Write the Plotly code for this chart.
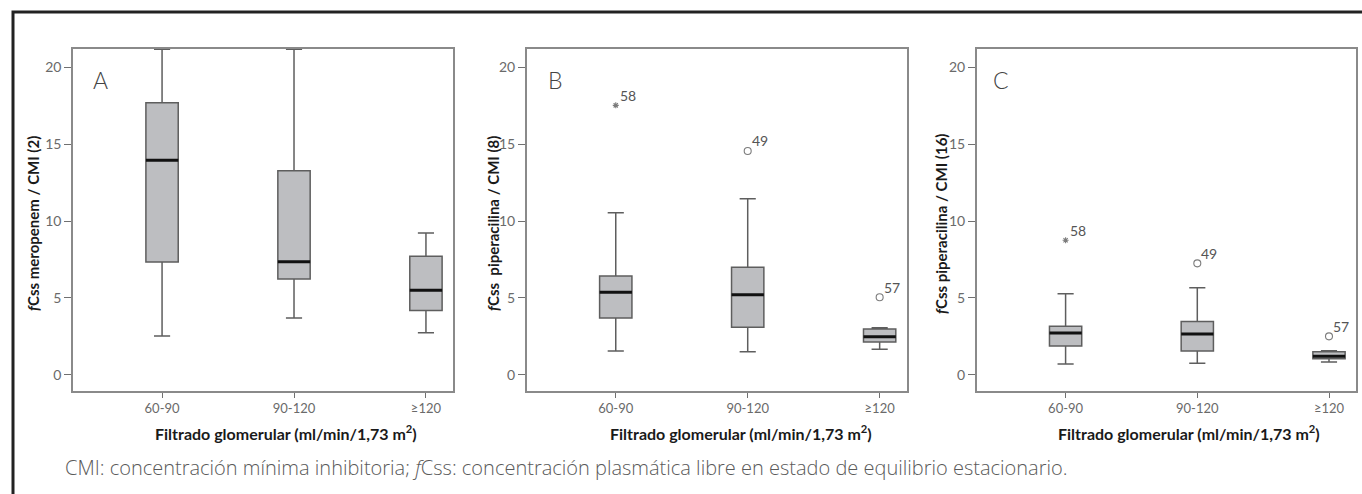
import plotly.graph_objects as go

W, H = 1362, 494

categories = ["60-90", "90-120", "≥120"]
cat_pos = [0, 1, 2]
panel_letters = ["A", "B", "C"]
y_titles = ["<i>f</i>Css meropenem / CMI (2)",
            "<i>f</i>Css  piperacilina / CMI (8)",
            "<i>f</i>Css piperacilina / CMI (16)"]
x_title = "Filtrado glomerular (ml/min/1,73 m<sup>2</sup>)"
caption = ("CMI: concentración mínima inhibitoria; <i>f</i>Css: concentración plasmática "
           "libre en estado de equilibrio estacionario.")

# Panel A: meropenem / CMI (2)
a_low = [2.53, 3.70, 2.75]
a_q1 = [7.34, 6.23, 4.18]
a_med = [13.94, 7.36, 5.50]
a_q3 = [17.68, 13.27, 7.71]
a_high = [21.15, 21.15, 9.22]
a_out_x, a_out_y, a_out_lbl, a_out_sym = [], [], [], []

# Panel B: piperacilina / CMI (8)
b_low = [1.56, 1.51, 1.67]
b_q1 = [3.70, 3.10, 2.14]
b_med = [5.37, 5.21, 2.49]
b_q3 = [6.43, 6.99, 2.99]
b_high = [10.54, 11.45, 3.07]
b_out_x = [0, 1, 2]
b_out_y = [17.51, 14.55, 5.05]
b_out_lbl = ["58", "49", "57"]
b_out_sym = ["asterisk-open", "circle-open", "circle-open"]

# Panel C: piperacilina / CMI (16)
c_low = [0.71, 0.76, 0.84]
c_q1 = [1.88, 1.56, 1.06]
c_med = [2.73, 2.66, 1.21]
c_q3 = [3.16, 3.48, 1.51]
c_high = [5.28, 5.67, 1.58]
c_out_x = [0, 1, 2]
c_out_y = [8.75, 7.25, 2.51]
c_out_lbl = ["58", "49", "57"]
c_out_sym = ["asterisk-open", "circle-open", "circle-open"]

panels = [
    (a_low, a_q1, a_med, a_q3, a_high, a_out_x, a_out_y, a_out_lbl, a_out_sym),
    (b_low, b_q1, b_med, b_q3, b_high, b_out_x, b_out_y, b_out_lbl, b_out_sym),
    (c_low, c_q1, c_med, c_q3, c_high, c_out_x, c_out_y, c_out_lbl, c_out_sym),
]

# layout geometry (pixels)
plot_x = [(73, 453), (526.7, 906.7), (976.7, 1356)]
plot_y = (49, 391)
ytitle_x = [33, 493, 941]
xtitle_x = [286, 741, 1189]
letter_x = [91, 546, 991]

BOX_W = 0.245
FILL = "#bdbec1"
EDGE = "#5e5e5e"
TICKC = "#707070"
LIGHT = "Lato, 'Open Sans', sans-serif"
CAPF = "'Open Sans', Lato, sans-serif"
BOLD = "Lato, 'DejaVu Sans', sans-serif"

def px(x):
    return x / W

def py(y):
    return 1 - y / H

fig = go.Figure()
annotations = []
for i, (low, q1, med, q3, high, ox, oy, olbl, osym) in enumerate(panels):
    xa = "x" if i == 0 else f"x{i+1}"
    ya = "y" if i == 0 else f"y{i+1}"
    fig.add_trace(go.Box(
        x=cat_pos, q1=q1, median=med, q3=q3, lowerfence=low, upperfence=high,
        width=BOX_W, whiskerwidth=0.5, boxpoints=False,
        fillcolor=FILL, line=dict(color=EDGE, width=1.5),
        xaxis=xa, yaxis=ya, showlegend=False, hoverinfo="skip"))
    mx, my = [], []
    for p, m in zip(cat_pos, med):
        mx += [p - BOX_W / 2, p + BOX_W / 2, None]
        my += [m, m, None]
    fig.add_trace(go.Scatter(x=mx, y=my, mode="lines",
                             line=dict(color="#111111", width=3),
                             xaxis=xa, yaxis=ya, showlegend=False, hoverinfo="skip"))
    if ox:
        fig.add_trace(go.Scatter(
            x=ox, y=oy, mode="markers",
            marker=dict(symbol=osym, size=[5 if s.startswith("asterisk") else 7 for s in osym],
                        color="#444444", line=dict(color="#444444", width=1.1)),
            xaxis=xa, yaxis=ya, showlegend=False, hoverinfo="skip"))
        for xv, yv, lbl in zip(ox, oy, olbl):
            annotations.append(dict(text=lbl, x=xv, y=yv, xref=xa, yref=ya,
                                    showarrow=False, xanchor="left", yanchor="middle",
                                    xshift=2, yshift=10,
                                    font=dict(family=LIGHT, size=14, color="#555555")))

    x0, x1 = plot_x[i]
    xaxis = dict(domain=[px(x0), px(x1)], range=[-0.675, 2.205],
                 tickmode="array", tickvals=cat_pos, ticktext=categories,
                 ticks="outside", ticklen=5, tickcolor=TICKC, tickwidth=1,
                 showline=True, linecolor="#8a8a8a", linewidth=1.5, mirror=True,
                 showgrid=False, zeroline=False, anchor=ya,
                 tickfont=dict(family=LIGHT, size=13, color="#6a6a6a"), fixedrange=True)
    yaxis = dict(domain=[py(plot_y[1]), py(plot_y[0])], range=[-1.04, 21.17],
                 tickvals=[0, 5, 10, 15, 20], ticks="outside", ticklen=7,
                 tickcolor=TICKC, tickwidth=1,
                 showline=True, linecolor="#8a8a8a", linewidth=1.5, mirror=True,
                 showgrid=False, zeroline=False, anchor=xa,
                 tickfont=dict(family=LIGHT, size=14, color="#6a6a6a"), fixedrange=True)
    fig.update_layout(**{("xaxis" if i == 0 else f"xaxis{i+1}"): xaxis,
                         ("yaxis" if i == 0 else f"yaxis{i+1}"): yaxis})

    annotations.append(dict(text=y_titles[i], x=px(ytitle_x[i]), y=py(224),
                            xref="paper", yref="paper", textangle=-90, showarrow=False,
                            xanchor="center", yanchor="middle",
                            font=dict(family=BOLD, size=15, color="#1a1a1a", weight="bold")))
    annotations.append(dict(text=x_title, x=px(xtitle_x[i]), y=py(432),
                            xref="paper", yref="paper", showarrow=False,
                            xanchor="center", yanchor="middle",
                            font=dict(family=BOLD, size=16, color="#1a1a1a", weight="bold")))
    annotations.append(dict(text=panel_letters[i], x=px(letter_x[i]), y=py(80),
                            xref="paper", yref="paper", showarrow=False,
                            xanchor="left", yanchor="middle",
                            font=dict(family=LIGHT, size=23, color="#444444", weight=300)))

annotations.append(dict(text=caption, x=px(63), y=py(467), xref="paper", yref="paper",
                        showarrow=False, xanchor="left", yanchor="middle",
                        font=dict(family=CAPF, size=20, color="#5a5a5a", weight=300)))

fig.update_layout(
    width=W, height=H, margin=dict(l=0, r=0, t=0, b=0),
    paper_bgcolor="white", plot_bgcolor="white",
    annotations=annotations,
    shapes=[dict(type="rect", xref="paper", yref="paper",
                 x0=px(13), x1=px(1372), y0=py(12), y1=py(520),
                 line=dict(color="#222222", width=3))],
)

fig.write_html("out.html", config={"displayModeBar": False},
               post_script="document.body.style.margin='0';document.body.style.overflow='hidden';")
